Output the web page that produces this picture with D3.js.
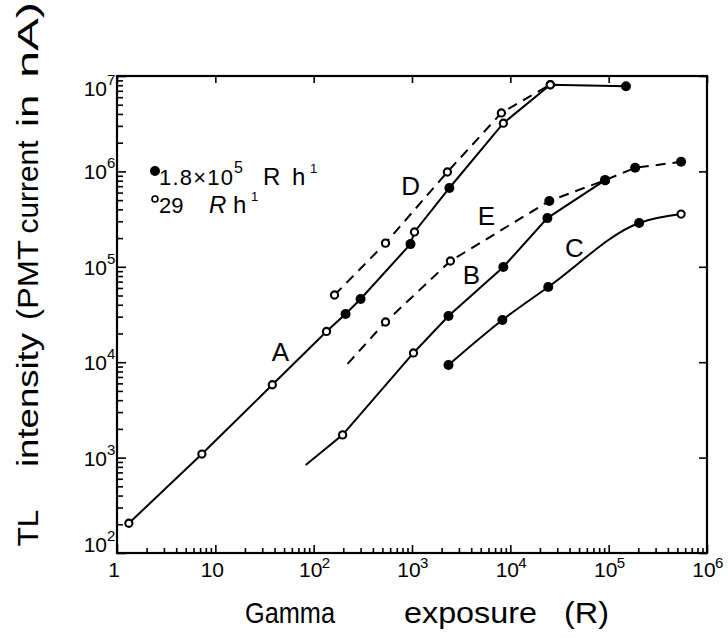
<!DOCTYPE html>
<html><head><meta charset="utf-8">
<script src="https://cdn.jsdelivr.net/npm/d3@7"></script>
<style>body{margin:0;background:#fff}svg{display:block}text{font-family:"Liberation Sans",Arial,sans-serif;fill:#000}</style>
</head><body>
<svg id="c" width="728" height="637"></svg>
<script>
// ---- data ----
const xMajor = [1, 10, 100, 1000, 10000, 100000, 1000000];
const xTickExp = ["1", "10", "2", "3", "4", "5", "6"];
const yMajor = [100, 1000, 10000, 100000, 1000000, 10000000];
const yTickExp = ["2", "3", "4", "5", "6", "7"];

// curve A (continues as solid D line), marker: 0 open, 1 filled
const aX = [1.32, 7.3, 38, 135, 211, 300, 965, 1060, 2400, 8490, 25500, 150000];
const aY = [205, 1090, 5800, 21000, 32000, 46000, 173000, 232000, 670000, 3200000, 8100000, 7800000];
const aM = [0, 0, 0, 0, 1, 1, 1, 0, 1, 0, 0, 1];
// curve D dashed
const dX = [163, 538, 2290, 8110, 25500];
const dY = [50600, 177000, 986000, 4100000, 8100000];
const dM = [0, 0, 0, 0, 0];
// curve E dashed (-1 = no marker)
const eX = [221, 538, 2460, 24900, 92000, 186000, 545000];
const eY = [9600, 26400, 115000, 490000, 810000, 1090000, 1260000];
const eM = [-1, 0, 0, 1, 1, 1, 1];
// curve B solid
const bX = [83, 197, 1035, 2350, 8490, 23800, 92000];
const bY = [836, 1730, 12500, 30500, 99500, 324000, 810000];
const bM = [-1, 0, 0, 1, 1, 1, 1];
// curve C solid
const cX = [2350, 8300, 24300, 204000, 545000];
const cY = [9350, 27700, 61400, 288000, 357000];
const cM = [1, 1, 1, 1, 0];

const curveLabels = ["A", "D", "E", "B", "C"];
const curveLabelAt = [[46, 10300], [966, 566000], [5700, 274000], [4020, 66000], [44700, 127000]];

// ---- drawing ----
const svg = d3.select("#c");
const L = 117, R = 707, T = 76, B = 553;
const x = d3.scaleLog().domain([1, 1e6]).range([L, R]);
const y = d3.scaleLog().domain([1e2, 1e7]).range([B, T]);

function minors(maj) {
  const out = [];
  for (let i = 0; i < maj.length - 1; i++) for (let k = 2; k <= 9; k++) out.push(maj[i] * k);
  return out;
}

const axG = svg.append("g");
function styleAxis(g) {
  g.select(".domain").remove();
  g.selectAll("line").attr("stroke", "#000").attr("stroke-width", 1.6);
  g.selectAll("text").remove();
}
axG.append("g").attr("transform", `translate(0,${B})`)
  .call(d3.axisBottom(x).tickValues(minors(xMajor)).tickSize(-5)).call(styleAxis);
axG.append("g").attr("transform", `translate(0,${B})`)
  .call(d3.axisBottom(x).tickValues(xMajor).tickSize(-8)).call(styleAxis);
axG.append("g").attr("transform", `translate(0,${T})`)
  .call(d3.axisTop(x).tickValues(xMajor).tickSize(-7)).call(styleAxis);
axG.append("g").attr("transform", `translate(${L},0)`)
  .call(d3.axisLeft(y).tickValues(minors(yMajor)).tickSize(-6)).call(styleAxis);
axG.append("g").attr("transform", `translate(${L},0)`)
  .call(d3.axisLeft(y).tickValues(yMajor).tickSize(-9)).call(styleAxis);
axG.append("g").attr("transform", `translate(${R},0)`)
  .call(d3.axisRight(y).tickValues(yMajor).tickSize(-8)).call(styleAxis);

svg.append("rect").attr("x", L).attr("y", T).attr("width", R - L).attr("height", B - T)
  .attr("fill", "none").attr("stroke", "#000").attr("stroke-width", 2.2);

// x tick labels
xMajor.forEach((v, i) => {
  const px = x(v) - 3;
  if (i < 2) {
    svg.append("text").attr("x", px).attr("y", 577).attr("text-anchor", "middle")
      .attr("font-size", 21).text(xTickExp[i]);
  } else {
    svg.append("text").attr("x", px).attr("y", 577).attr("text-anchor", "middle")
      .attr("font-size", 21).text("10");
    svg.append("text").attr("x", px + 11).attr("y", 568).attr("font-size", 15).text(xTickExp[i]);
  }
});
// y tick labels
yMajor.forEach((v, i) => {
  const cy = Math.max(88, Math.min(544, y(v)));
  svg.append("text").attr("x", 107).attr("y", cy + 8).attr("text-anchor", "end")
    .attr("font-size", 21).text("10");
  svg.append("text").attr("x", 107).attr("y", cy - 3).attr("font-size", 15).text(yTickExp[i]);
});

// curves
function curve(xs, ys, ms, dashed, cf) {
  const pts = xs.map((v, i) => [x(v), y(ys[i]), ms[i]]);
  const line = d3.line().x(d => d[0]).y(d => d[1]).curve(cf || d3.curveLinear);
  svg.append("path").attr("d", line(pts)).attr("fill", "none").attr("stroke", "#000")
    .attr("stroke-width", 2).attr("stroke-dasharray", dashed ? "10,7" : null);
  return pts;
}
const allPts = [];
allPts.push(curve(aX, aY, aM, false));
allPts.push(curve(dX, dY, dM, true));
allPts.push(curve(eX, eY, eM, true));
allPts.push(curve(bX, bY, bM, false));
allPts.push(curve(cX, cY, cM, false, d3.curveMonotoneX));
allPts.forEach(pts => pts.forEach(p => {
  if (p[2] === 1) svg.append("circle").attr("cx", p[0]).attr("cy", p[1]).attr("r", 5).attr("fill", "#000");
  else if (p[2] === 0) svg.append("circle").attr("cx", p[0]).attr("cy", p[1]).attr("r", 3.6)
    .attr("fill", "#fff").attr("stroke", "#000").attr("stroke-width", 2.1);
}));

// curve labels
curveLabels.forEach((t, i) => {
  svg.append("text").attr("x", x(curveLabelAt[i][0])).attr("y", y(curveLabelAt[i][1]))
    .attr("text-anchor", "middle").attr("font-size", 26).text(t);
});

// legend
svg.append("circle").attr("cx", 155).attr("cy", 171).attr("r", 5).attr("fill", "#000");
svg.append("text").attr("x", 159).attr("y", 185).attr("font-size", 22).attr("textLength", 74).text("1.8×10");
svg.append("text").attr("x", 234).attr("y", 173).attr("font-size", 16).text("5");
svg.append("text").attr("x", 263).attr("y", 185).attr("font-size", 24).text("R");
svg.append("text").attr("x", 292).attr("y", 185).attr("font-size", 24).text("h");
svg.append("text").attr("x", 310).attr("y", 173).attr("font-size", 13).text("1");
svg.append("circle").attr("cx", 155).attr("cy", 199).attr("r", 3).attr("fill", "#fff")
  .attr("stroke", "#000").attr("stroke-width", 1.6);
svg.append("text").attr("x", 159).attr("y", 213).attr("font-size", 22).text("29");
svg.append("text").attr("x", 209).attr("y", 213).attr("font-size", 24).attr("font-style", "italic").text("R");
svg.append("text").attr("x", 233).attr("y", 213).attr("font-size", 24).text("h");
svg.append("text").attr("x", 251).attr("y", 201).attr("font-size", 13).text("1");

// axis titles
const xt = [["Gamma", 245, 90], ["exposure", 404, 133], ["(R)", 564, 45]];
xt.forEach(w => svg.append("text").attr("x", w[1]).attr("y", 623).attr("font-size", 30)
  .attr("textLength", w[2]).attr("lengthAdjust", "spacingAndGlyphs").text(w[0]));
const yt = [["TL", 528, 37], ["intensity", 400, 134], ["(PMT", 280, 80], ["current", 187, 93], ["in", 111, 32], ["nA)", 40, 76]];
yt.forEach(w => svg.append("text").attr("transform", `translate(38,${w[1]}) rotate(-90)`)
  .attr("text-anchor", "middle").attr("font-size", 30)
  .attr("textLength", w[2]).attr("lengthAdjust", "spacingAndGlyphs").text(w[0]));
</script>
</body></html>
